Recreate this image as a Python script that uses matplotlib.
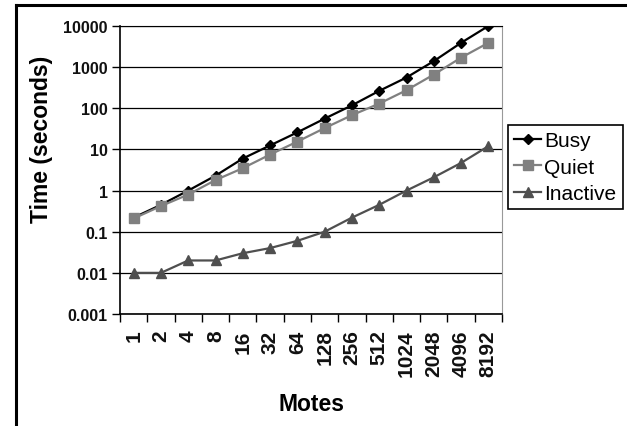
import numpy as np
import matplotlib
matplotlib.use("Agg")
import matplotlib.pyplot as plt
from matplotlib.lines import Line2D

plt.rcParams["font.family"] = ["Liberation Sans", "DejaVu Sans"]

motes = ["1", "2", "4", "8", "16", "32", "64", "128", "256", "512",
         "1024", "2048", "4096", "8192"]
busy = [0.22, 0.45, 1.0, 2.3, 6.0, 12.5, 26, 56, 118, 265, 560, 1400, 3900, 10000]
quiet = [0.21, 0.42, 0.8, 1.8, 3.5, 7.5, 15.5, 33, 68, 130, 275, 660, 1700, 3900]
inactive = [0.01, 0.01, 0.02, 0.02, 0.03, 0.04, 0.06, 0.1, 0.22, 0.45, 1.0, 2.1, 4.7, 12]
yticks = [0.001, 0.01, 0.1, 1, 10, 100, 1000, 10000]
ytick_labels = ["0.001", "0.01", "0.1", "1", "10", "100", "1000", "10000"]

fig = plt.figure(figsize=(6.27, 4.27), dpi=100)
ax = fig.add_axes([120 / 627, 1 - 315 / 427, 382 / 627, 288 / 427])

x = np.arange(len(motes))
ax.plot(x, busy, color="black", lw=1.6, marker="D", ms=5.5, label="Busy")
ax.plot(x, quiet, color="#808080", lw=1.6, marker="s", ms=6.5, label="Quiet")
ax.plot(x, inactive, color="#4f4f4f", lw=1.6, marker="^", ms=7, label="Inactive")

ax.set_yscale("log")
ax.set_ylim(0.001, 10000)
ax.set_xlim(-0.5, len(motes) - 0.5)
ax.set_yticks(yticks)
ax.set_yticklabels(ytick_labels, fontsize=11.5, fontweight="bold", color="#111111")
ax.yaxis.set_minor_locator(matplotlib.ticker.NullLocator())
ax.grid(axis="y", which="major", color="black", lw=0.9)
ax.tick_params(axis="y", direction="out", length=6, width=1, pad=3)

ax.set_xticks(x)
ax.set_xticklabels(motes, rotation=90, fontsize=15, fontweight="bold", color="#111111")
ax.set_xticks(np.arange(len(motes) + 1) - 0.5, minor=True)
ax.tick_params(axis="x", which="major", length=0, pad=11)
ax.tick_params(axis="x", which="minor", direction="out", length=6, width=1)

for side in ["left", "bottom", "top"]:
    ax.spines[side].set_color("black")
ax.spines["left"].set_linewidth(1.2)
ax.spines["bottom"].set_linewidth(1.2)
ax.spines["right"].set_color("#999999")
ax.spines["right"].set_linewidth(0.8)

ax.set_ylabel("Time (seconds)", fontsize=16.5, fontweight="bold")
ax.yaxis.set_label_coords(-0.175, 0.61)
ax.set_xlabel("Motes", fontsize=16.5, fontweight="bold")
ax.xaxis.set_label_coords(0.5, -0.27)

leg = ax.legend(loc="upper left", bbox_to_anchor=(508 / 627, 1 - 126 / 427),
                bbox_transform=fig.transFigure, fontsize=15, frameon=True,
                fancybox=False, framealpha=1, edgecolor="black",
                handlelength=1.3, handletextpad=0.15, borderpad=0.3,
                labelspacing=0.35, borderaxespad=0)
leg.get_frame().set_linewidth(1.2)

# outer frame (top and left edges only)
fig.add_artist(Line2D([16 / 627, 1], [1 - 6 / 427, 1 - 6 / 427], color="black", lw=2.2,
                      transform=fig.transFigure))
fig.add_artist(Line2D([16 / 627, 16 / 627], [0, 1 - 6 / 427], color="black", lw=2.2,
                      transform=fig.transFigure))

fig.savefig("out.png", dpi=100)
